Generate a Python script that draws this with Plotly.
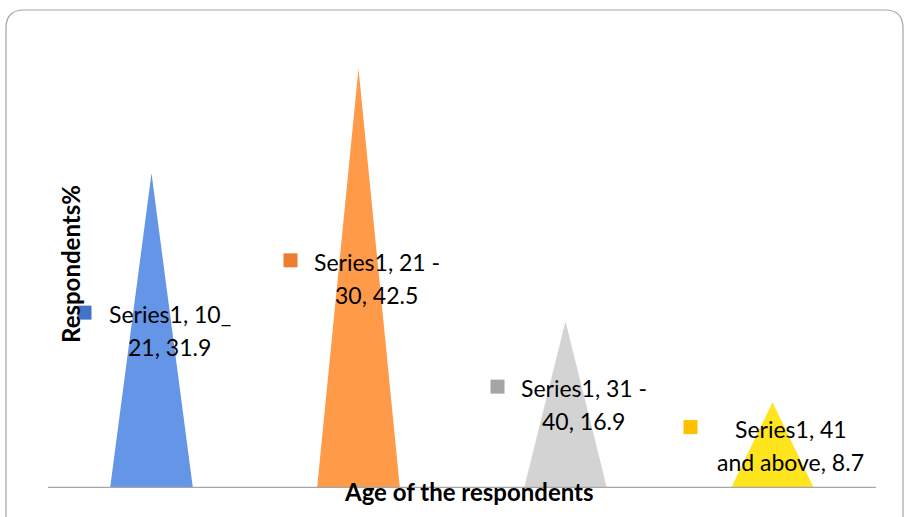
import plotly.graph_objects as go

categories = ["10_ 21", "21 - 30", "31 - 40", "41 and above"]
values = [31.9, 42.5, 16.9, 8.7]
series_name = "Series1"
label_line1 = ["10_", "21 -", "31 -", "41"]
label_line2 = ["21", "30", "40", "and above"]

fill_colors = ["#6495E6", "#FF9A48", "#D3D3D3", "#FFE51E"]
marker_colors = ["#4472C4", "#ED7D31", "#A5A5A5", "#FFC000"]
marker_right = [-60, -61, -61, -75]   # px offset of key square's right edge from category centre

W, H = 904, 517
ML, MR, MT, MB = 48, 28, 44, 29
PW, PH = W - ML - MR, H - MT - MB
FONT = "Lato, Carlito, Calibri, sans-serif"

fig = go.Figure()
half = 0.2
for i, (v, c) in enumerate(zip(values, fill_colors)):
    fig.add_trace(go.Scatter(
        x=[i - half, i, i + half, i - half],
        y=[0, v, 0, 0],
        mode="lines", fill="toself", fillcolor=c,
        line=dict(width=0, color=c), hoverinfo="skip", showlegend=False,
    ))

font_lbl = dict(family=FONT, size=23, color="#000000")
for i, v in enumerate(values):
    lines = [f"{series_name}, {label_line1[i]}", f"{label_line2[i]}, {v}"]
    for k, t in enumerate(lines):
        fig.add_annotation(x=i, y=v / 2, xref="x", yref="y", text=t, showarrow=False,
                           font=font_lbl, align="center", xshift=18,
                           yshift=16.5 if k == 0 else -16.5,
                           xanchor="center", yanchor="middle")
    fig.add_shape(type="rect", xref="x", yref="y", xsizemode="pixel", ysizemode="pixel",
                  xanchor=i, yanchor=v / 2, x0=marker_right[i] - 14, x1=marker_right[i],
                  y0=11, y1=25, fillcolor=marker_colors[i], line=dict(width=0))

# axis line
fig.add_shape(type="line", xref="paper", yref="y", x0=0, x1=1, y0=0, y1=0,
              line=dict(color="#A6A6A6", width=2.5))

# axis titles
fig.add_annotation(text="<b>Respondents%</b>", xref="paper", yref="paper",
                   x=(70 - ML) / PW, y=1 - (264 - MT) / PH, textangle=-90, showarrow=False,
                   font=dict(family=FONT, size=24, color="#000"),
                   xanchor="center", yanchor="middle")
fig.add_annotation(text="<b>Age of the respondents</b>", xref="paper", yref="paper",
                   x=(469 - ML) / PW, y=1 - (491 - MT) / PH, showarrow=False,
                   font=dict(family=FONT, size=24, color="#000"),
                   xanchor="center", yanchor="middle")

# rounded chart border
def px(xp): return (xp - ML) / PW
def py(yp): return 1 - (yp - MT) / PH
x0, x1, y0, y1, r = 6, 903, 10, 530, 18
path = (f"M {px(x0)},{py(y0 + r)} "
        f"Q {px(x0)},{py(y0)} {px(x0 + r)},{py(y0)} "
        f"L {px(x1 - r)},{py(y0)} "
        f"Q {px(x1)},{py(y0)} {px(x1)},{py(y0 + r)} "
        f"L {px(x1)},{py(y1)} L {px(x0)},{py(y1)} Z")
fig.add_shape(type="path", xref="paper", yref="paper", path=path,
              line=dict(color="#A6A6A6", width=1.2), fillcolor="rgba(0,0,0,0)", layer="below")

fig.update_xaxes(range=[-0.5, 3.5], showgrid=False, zeroline=False, showticklabels=False,
                 showline=False, fixedrange=True)
fig.update_yaxes(range=[0, 45], showgrid=False, zeroline=False, showticklabels=False,
                 showline=False, fixedrange=True)
fig.update_layout(width=W, height=H, margin=dict(l=ML, r=MR, t=MT, b=MB),
                  plot_bgcolor="white", paper_bgcolor="white", showlegend=False)

fig.write_html("out.html", config={"displayModeBar": False},
               post_script="document.body.style.margin='0';document.body.style.overflow='hidden';")
